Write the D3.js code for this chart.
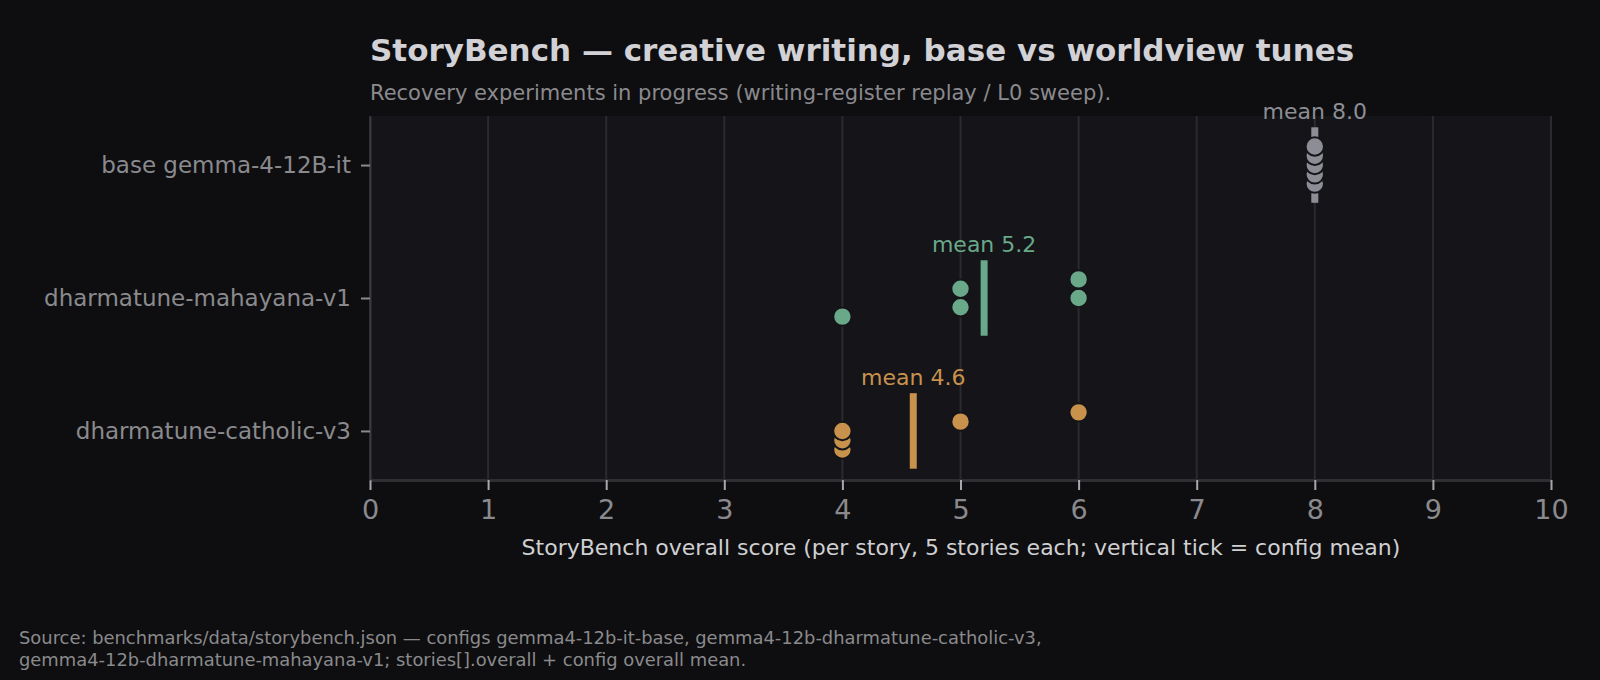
<!DOCTYPE html>
<html lang="en">
<head>
<meta charset="utf-8">
<script src="https://d3js.org/d3.v7.min.js"></script>
<style>
  html, body { margin: 0; padding: 0; background: #0e0e10; }
  svg text { font-family: "DejaVu Sans", sans-serif; }
</style>
</head>
<body>
<div id="chart"></div>
<script>
// configs in plot order (top to bottom)
const configs = ["base gemma-4-12B-it", "dharmatune-mahayana-v1", "dharmatune-catholic-v3"];
const colors = ["#8d8d95", "#69a888", "#c8924c"];
// per-story overall scores (5 stories each)
const baseScores = [8, 8, 8, 8, 8];
const mahayanaScores = [6, 5, 6, 5, 4];
const catholicScores = [6, 5, 4, 4, 4];
const xTicks = [0, 1, 2, 3, 4, 5, 6, 7, 8, 9, 10];

const allScores = [baseScores, mahayanaScores, catholicScores];

const W = 1600, H = 680;
const margin = {top: 116, right: 49, bottom: 200, left: 370};
const width = W - margin.left - margin.right,
      height = H - margin.top - margin.bottom;

const svg = d3.select("#chart").append("svg")
  .attr("width", W).attr("height", H)
  .style("background", "#0e0e10");

// titles
svg.append("text").attr("x", 370).attr("y", 61)
  .attr("fill", "#d2d2d6").attr("font-weight", "bold").attr("font-size", 31)
  .text("StoryBench — creative writing, base vs worldview tunes");
svg.append("text").attr("x", 370).attr("y", 100)
  .attr("fill", "#8a8a8e").attr("font-size", 21)
  .text("Recovery experiments in progress (writing-register replay / L0 sweep).");

const g = svg.append("g").attr("transform", `translate(${margin.left},${margin.top})`);

const x = d3.scaleLinear().domain([0, 10]).range([0, width]);
const y = d3.scalePoint().domain(configs).range([0, height]).padding(0.369);
const step = y.step();

// plot background
g.append("rect").attr("width", width).attr("height", height).attr("fill", "#141419");

// vertical gridlines
g.selectAll(".grid").data(xTicks).join("line")
  .attr("x1", d => x(d)).attr("x2", d => x(d))
  .attr("y1", 0).attr("y2", height)
  .attr("stroke", "#2a2a2f").attr("stroke-width", 2);

// x axis
const xAxis = g.append("g").attr("transform", `translate(0,${height})`)
  .call(d3.axisBottom(x).tickValues(xTicks).tickFormat(d3.format("d"))
    .tickSize(10).tickSizeOuter(0).tickPadding(10));
xAxis.select(".domain").attr("stroke", "#2e2e33").attr("stroke-width", 3);
xAxis.selectAll(".tick line").attr("stroke", "#a8a8ac").attr("stroke-width", 2);
xAxis.selectAll(".tick text").attr("fill", "#8a8a8e").attr("font-size", 27)
  .attr("font-family", "DejaVu Sans, sans-serif");

// y axis
const yAxis = g.append("g")
  .call(d3.axisLeft(y).tickSize(9).tickSizeOuter(0).tickPadding(10));
yAxis.select(".domain").attr("stroke", "#3a3a3f").attr("stroke-width", 2);
yAxis.selectAll(".tick line").attr("stroke", "#8a8a8e").attr("stroke-width", 2);
yAxis.selectAll(".tick text").attr("fill", "#8a8a8e").attr("font-size", 23)
  .attr("font-family", "DejaVu Sans, sans-serif");

// per-config marks
configs.forEach((c, ci) => {
  const scores = allScores[ci];
  const mean = d3.mean(scores);
  const cy = y(c);
  const col = colors[ci];

  // mean tick
  g.append("rect")
    .attr("x", x(mean) - 3.5).attr("y", cy - 0.284 * step)
    .attr("width", 7).attr("height", 0.568 * step)
    .attr("fill", col);

  g.append("text")
    .attr("x", x(mean)).attr("y", cy - 0.284 * step - 8.5)
    .attr("text-anchor", "middle").attr("fill", col).attr("font-size", 22)
    .text(`mean ${mean.toFixed(1)}`);

  // story dots, offset by story index, drawn last-to-first
  const pts = scores.map((s, i) => ({s, i})).reverse();
  g.selectAll(null).data(pts).join("circle")
    .attr("cx", d => x(d.s))
    .attr("cy", d => cy + (d.i - 2) * 0.07 * step)
    .attr("r", 9.2)
    .attr("fill", col)
    .attr("stroke", "#141419").attr("stroke-width", 2);
});

// x label
svg.append("text").attr("x", 961).attr("y", 555)
  .attr("text-anchor", "middle").attr("fill", "#d0d0d2").attr("font-size", 22)
  .text("StoryBench overall score (per story, 5 stories each; vertical tick = config mean)");

// source note
const src = svg.append("text").attr("fill", "#8a8a8c").attr("font-size", 17.9);
src.append("tspan").attr("x", 19).attr("y", 644)
  .text("Source: benchmarks/data/storybench.json — configs gemma4-12b-it-base, gemma4-12b-dharmatune-catholic-v3,");
src.append("tspan").attr("x", 19).attr("y", 666)
  .text("gemma4-12b-dharmatune-mahayana-v1; stories[].overall + config overall mean.");
</script>
</body>
</html>
